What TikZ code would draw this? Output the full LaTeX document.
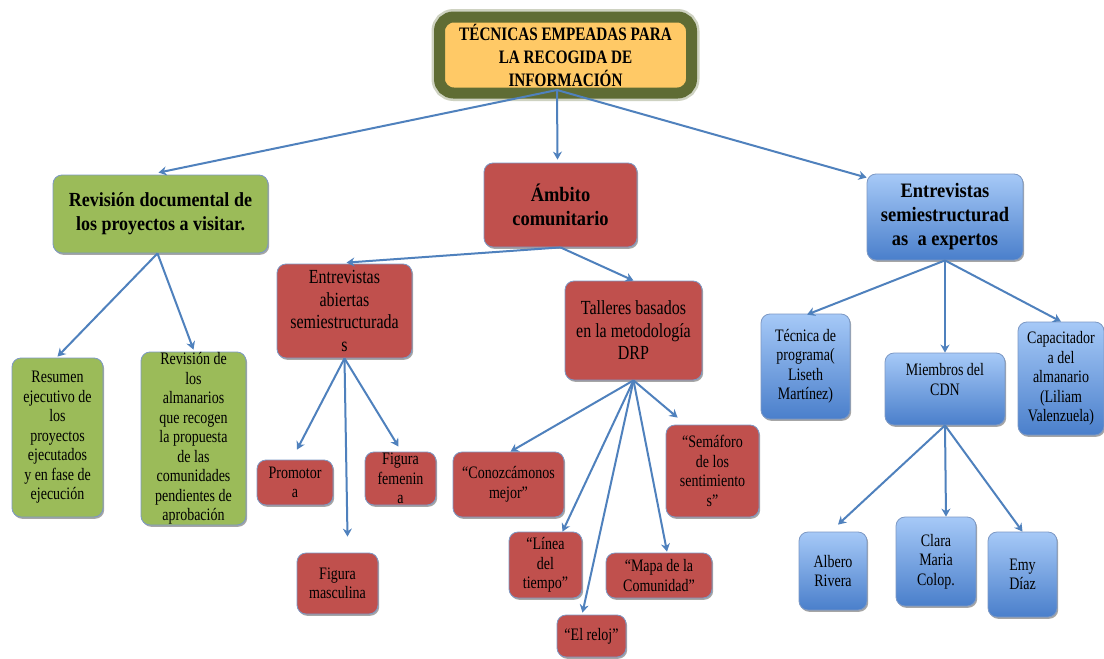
\documentclass[tikz,border=0pt]{standalone}
\usepackage{fontspec}
\setmainfont{Liberation Serif}[FakeStretch=0.8]
\newfontfamily\lvtwo{Liberation Serif}[FakeStretch=0.9]
\usetikzlibrary{arrows.meta,shadows,calc}
\definecolor{grn}{HTML}{9BBB59}
\definecolor{redc}{HTML}{C0504D}
\definecolor{bluetop}{HTML}{A6C9F7}
\definecolor{bluebot}{HTML}{4A7FCB}
\definecolor{bordc}{HTML}{7C98C4}
\definecolor{arrc}{HTML}{4F81BD}
\definecolor{orng}{HTML}{FFC966}
\definecolor{olive}{HTML}{5F6C34}
\tikzset{
  box/.style={rectangle, rounded corners=9pt, draw=bordc, line width=0.8pt, align=center, inner sep=0pt,
    drop shadow={shadow xshift=1.2pt, shadow yshift=-1.8pt, opacity=0.35, fill=black}},
  gbox/.style={box, fill=grn},
  rbox/.style={box, fill=redc},
  bbox/.style={box, top color=bluetop, bottom color=bluebot},
  small/.style={font=\fontsize{17.5}{19.5}\selectfont},
  mid/.style={font=\fontsize{20}{22.5}\selectfont},
  big/.style={font=\lvtwo\bfseries\fontsize{20.5}{24}\selectfont},
  arr/.style={draw=arrc, line width=2pt, -{Stealth[length=8pt,width=9pt]}},
}
\begin{document}
\begin{tikzpicture}[x=1pt,y=-1pt]
\path[use as bounding box, fill=white] (0,0) rectangle (1104,659);

% root
\node (root) [rectangle, rounded corners=14pt, fill=orng, draw=olive, line width=11pt, align=center, inner sep=0pt,
  preaction={draw=olive, line width=16pt, opacity=0.3},
  minimum width=252, minimum height=76, font=\bfseries\fontsize{19}{23}\selectfont]
  at (565.5,55) {TÉCNICAS EMPEADAS PARA\\LA RECOGIDA DE\\INFORMACIÓN};

% level 2
\node (rev) [gbox, font=\lvtwo\bfseries\fontsize{20}{24}\selectfont, minimum width=215, minimum height=78] at (160.5,214)
  {Revisión documental de\\los proyectos a visitar.};
\node (amb) [rbox, big, minimum width=153, minimum height=84] at (560.5,205) {Ámbito\\comunitario};
\node (exp) [bbox, big, minimum width=156, minimum height=86] at (945,217)
  {Entrevistas\\semiestructurad\\as\ \ a expertos};

% green leaves
\node (res) [gbox, small, minimum width=91, minimum height=159] at (57.5,437.5)
  {Resumen\\ejecutivo de\\los\\proyectos\\ejecutados\\y en fase de\\ejecución};
\node (alm) [gbox, small, minimum width=105, minimum height=173] at (193.5,438.5)
  {Revisión de\\los\\almanarios\\que recogen\\la propuesta\\de las\\comunidades\\pendientes de\\aprobación};

% red level 3
\node (ent) [rbox, mid, minimum width=135, minimum height=94] at (344.5,311)
  {Entrevistas\\abiertas\\semiestructurada\\s};
\node (tal) [rbox, mid, minimum width=137, minimum height=99] at (633.5,330.5)
  {Talleres basados\\en la metodología\\DRP};

\node (prom) [rbox, small, minimum width=76, minimum height=45] at (295,482.5) {Promotor\\a};
\node (fem) [rbox, small, minimum width=71, minimum height=53] at (400.5,478.5) {Figura\\femenin\\a};
\node (masc) [rbox, small, minimum width=81, minimum height=61] at (337.5,583.5) {Figura\\masculina};

\node (con) [rbox, small, minimum width=111, minimum height=65] at (508.5,484.5) {“Conozcámonos\\mejor”};
\node (lin) [rbox, small, minimum width=73, minimum height=66] at (545.5,565) {“Línea\\del\\tiempo”};
\node (rel) [rbox, small, minimum width=69, minimum height=42] at (591.5,636) {“El reloj”};
\node (mapa) [rbox, small, minimum width=106, minimum height=45] at (659,575.5) {“Mapa de la\\Comunidad”};
\node (sem) [rbox, small, minimum width=93, minimum height=92] at (712.5,471) {“Semáforo\\de los\\sentimiento\\s”};

% blue level 3
\node (tec) [bbox, small, minimum width=89, minimum height=105] at (805.5,366.5)
  {Técnica de\\programa(\\Liseth\\Martínez)};
\node (mie) [bbox, small, minimum width=120, minimum height=72] at (945,389)
  {Miembros del\\CDN\\ };
\node (cap) [bbox, small, minimum width=86, minimum height=113] at (1061,378.5)
  {Capacitador\\a del\\almanario\\(Liliam\\Valenzuela)};
\node (alb) [bbox, small, minimum width=68, minimum height=78] at (833,571) {Albero\\Rivera};
\node (cla) [bbox, small, minimum width=80, minimum height=89] at (936,561.5) {Clara\\Maria\\Colop.};
\node (emy) [bbox, small, minimum width=69, minimum height=85] at (1022.5,574.5) {Emy\\Díaz};

% connectors
\coordinate (rootout) at (557,90);
\draw[arr] (rootout) -- ($(rev.north)+(-2,-2)$);
\draw[arr] (rootout) -- ($(amb.north)+(-3,-3)$);
\draw[arr] (rootout) -- ($(exp.north west)+(0,4)$);

\coordinate (revout) at ($(rev.south)+(-3,0)$);
\draw[arr] (revout) -- ($(res.north)+(0,-1)$);
\draw[arr] (revout) -- ($(alm.north)+(0,-2)$);

\draw[arr] (amb.south) -- ($(ent.north)+(2,-1)$);
\draw[arr] (amb.south) -- (tal.north);

\draw[arr] (ent.south) -- ($(prom.north)+(2,-10)$);
\draw[arr] (ent.south) -- ($(fem.north)+(-2,-5)$);
\draw[arr] (ent.south) -- ($(masc.north)+(10,-16)$);

\draw[arr] (tal.south) -- ($(con.north)+(2,0)$);
\draw[arr] (tal.south) -- ($(lin.north)+(17,0)$);
\draw[arr] (tal.south) -- ($(rel.north)+(-9,-2)$);
\draw[arr] (tal.south) -- ($(mapa.north)+(8,-1)$);
\draw[arr] (tal.south) -- ($(sem.north west)+(12,-7)$);

\draw[arr] (exp.south) -- ($(tec.north)+(1.5,1)$);
\draw[arr] (exp.south) -- (mie.north);
\draw[arr] (exp.south) -- (cap.north);

\draw[arr] (mie.south) -- ($(alb.north)+(5,-7)$);
\draw[arr] (mie.south) -- ($(cla.north)+(10,0)$);
\draw[arr] (mie.south) -- (emy.north);
\end{tikzpicture}
\end{document}
